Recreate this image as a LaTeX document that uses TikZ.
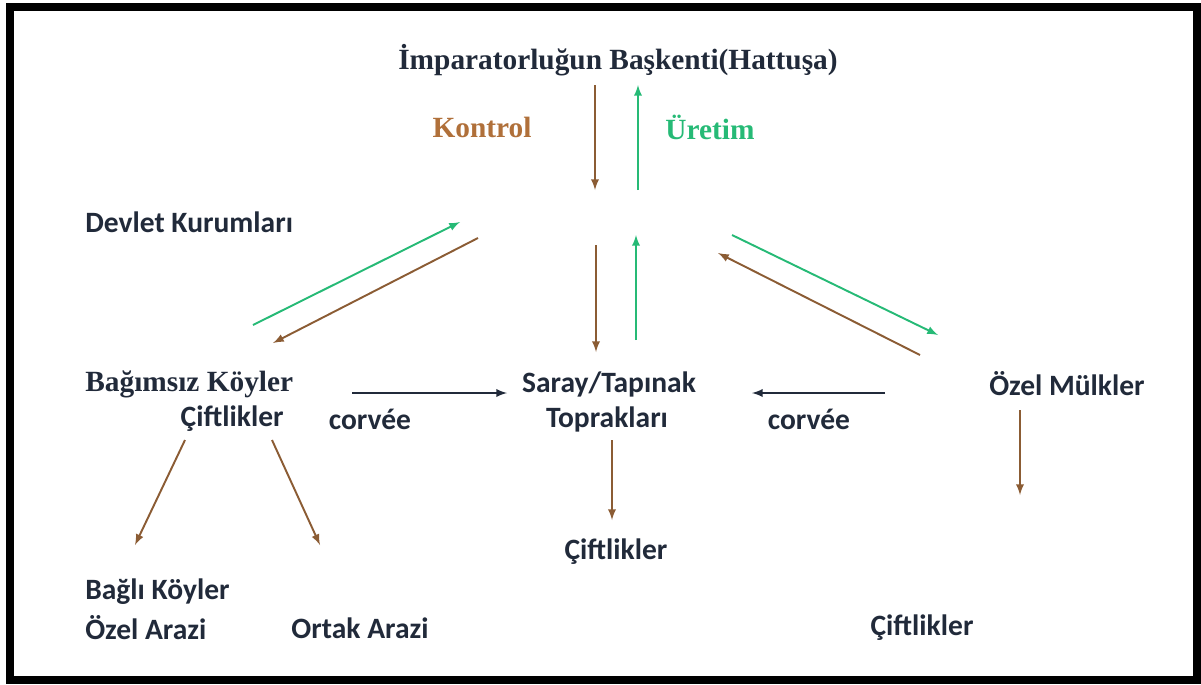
\documentclass[tikz,border=0pt]{standalone}
\usepackage{fontspec}
\setmainfont{Liberation Serif}
\newfontfamily\calibri{Carlito}
\usetikzlibrary{positioning}

\definecolor{yazi}{RGB}{33,42,58}
\definecolor{kahve}{RGB}{139,92,52}
\definecolor{kontrolrenk}{RGB}{176,112,58}
\definecolor{yesil}{RGB}{38,186,118}

\tikzset{
  serifbaslik/.style={font=\fontsize{16.7}{19}\selectfont\bfseries, text=yazi, inner sep=0pt},
  kutu/.style={font=\calibri\fontsize{16.8}{19}\selectfont\bfseries, text=yazi, inner sep=0pt},
  kontrolok/.style={draw=kahve, line width=1.1pt, ->, -latex},
  uretimok/.style={draw=yesil, line width=1.1pt, ->, -latex},
  corveeok/.style={draw=yazi, line width=1.1pt, ->, -latex},
}

\begin{document}
\begin{tikzpicture}[x=0.02cm, y=-0.02cm]
    \useasboundingbox (0,0) rectangle (1201,684);
    % cerceve
    \draw[line width=0.16cm] (10,7) rectangle (1197,680);

    % basliklar
    \node (baskent) at (618,60) [serifbaslik] {İmparatorluğun Başkenti(Hattuşa)};
    \node (kontrol) at (482,127) [serifbaslik, text=kontrolrenk] {Kontrol};
    \node (uretim) at (710,127) [serifbaslik, text=yesil] {Üretim};
    \node (devlet) at (85,222) [kutu, anchor=west] {Devlet Kurumları};

    \node (bagimsiz) at (85,384) [serifbaslik, anchor=west] {Bağımsız Köyler};
    \node (bciftlik) at (284,419) [kutu, anchor=east] {Çiftlikler};
    \node (corveeA) at (370,419) [kutu] {corvée};
    \node (saray) at (609,384) [kutu] {Saray/Tapınak};
    \node (toprak) at (607,419) [kutu] {Toprakları};
    \node (corveeB) at (809,419) [kutu] {corvée};
    \node (ozel) at (1067,384) [kutu] {Özel Mülkler};

    \node (bagli) at (85,592) [kutu, anchor=west] {Bağlı Köyler};
    \node (ozelarazi) at (85,628) [kutu, anchor=west] {Özel Arazi};
    \node (ortak) at (360,628) [kutu] {Ortak Arazi};
    \node (sciftlik) at (616,552) [kutu] {Çiftlikler};
    \node (mciftlik) at (922,628) [kutu] {Çiftlikler};

    % ok uclari
    \coordinate (k1) at (595,85);   \coordinate (k2) at (595,190);
    \coordinate (u1) at (638,190);  \coordinate (u2) at (638,85);
    \coordinate (sl1) at (253,325); \coordinate (sl2) at (460,222);
    \coordinate (kl1) at (478,238); \coordinate (kl2) at (273,343);
    \coordinate (k3) at (596,245);  \coordinate (k4) at (596,352);
    \coordinate (u3) at (636,340);  \coordinate (u4) at (636,235);
    \coordinate (sr1) at (732,235); \coordinate (sr2) at (938,335);
    \coordinate (kr1) at (920,355); \coordinate (kr2) at (718,253);
    \coordinate (c1) at (352,393);  \coordinate (c2) at (507,393);
    \coordinate (c3) at (885,393);  \coordinate (c4) at (752,393);
    \coordinate (b1) at (185,440);  \coordinate (b2) at (135,545);
    \coordinate (b3) at (272,440);  \coordinate (b4) at (320,545);
    \coordinate (s1) at (612,440);  \coordinate (s2) at (612,520);
    \coordinate (m1) at (1020,410); \coordinate (m2) at (1020,495);

    \draw[kontrolok] (k1) -- (k2);
    \draw[uretimok] (u1) -- (u2);
    \draw[uretimok] (sl1) -- (sl2);
    \draw[kontrolok] (kl1) -- (kl2);
    \draw[kontrolok] (k3) -- (k4);
    \draw[uretimok] (u3) -- (u4);
    \draw[uretimok] (sr1) -- (sr2);
    \draw[kontrolok] (kr1) -- (kr2);
    \draw[corveeok] (c1) -- (c2);
    \draw[corveeok] (c3) -- (c4);
    \draw[kontrolok] (b1) -- (b2);
    \draw[kontrolok] (b3) -- (b4);
    \draw[kontrolok] (s1) -- (s2);
    \draw[kontrolok] (m1) -- (m2);
\end{tikzpicture}
\end{document}
